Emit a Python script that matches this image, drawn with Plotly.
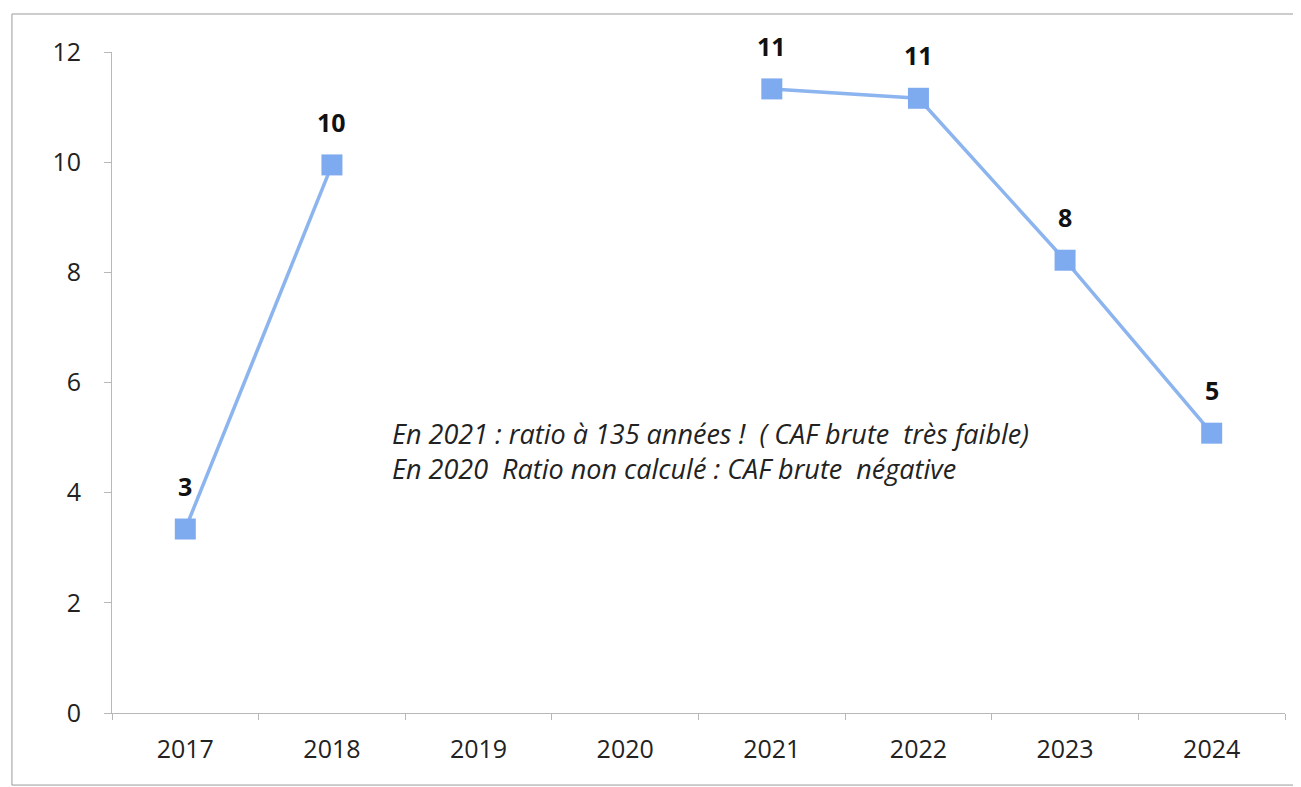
import plotly.graph_objects as go

years = ["2017", "2018", "2019", "2020", "2021", "2022", "2023", "2024"]
ratio = [3.34, 9.95, None, None, 11.33, 11.16, 8.22, 5.08]
labels = ["3", "10", "", "", "11", "11", "8", "5"]

note_lines = [
    "En 2021 : ratio à 135 années !  ( CAF brute  très faible)",
    "En 2020  Ratio non calculé : CAF brute  négative",
]

FONT = "Open Sans, Noto Sans, sans-serif"

fig = go.Figure()
fig.add_trace(
    go.Scatter(
        x=years,
        y=ratio,
        mode="lines+markers",
        line=dict(color="#8cb4ee", width=3.5),
        marker=dict(symbol="square", size=21, color="#7eaaf0"),
        connectgaps=False,
        cliponaxis=False,
        showlegend=False,
    )
)

# value labels above each point (category index, since "2017" would be read as a number)
for i, (val, lab) in enumerate(zip(ratio, labels)):
    if val is None:
        continue
    fig.add_annotation(
        x=i,
        y=val,
        text=f"<b>{lab}</b>",
        showarrow=False,
        yanchor="bottom",
        yshift=24,
        font=dict(family=FONT, size=25, color="#111111"),
    )

fig.add_annotation(
    x=0.237,
    y=0.396,
    xref="paper",
    yref="paper",
    xanchor="left",
    yanchor="middle",
    align="left",
    showarrow=False,
    text="<i>" + "<br>".join(note_lines) + "</i>",
    font=dict(family=FONT, size=27, color="#222222"),
)

# outer chart frame
fig.add_shape(
    type="rect",
    xref="paper",
    yref="paper",
    x0=-0.0853,
    x1=1.0102,
    y0=-0.109,
    y1=1.0575,
    line=dict(color="#9a9a9a", width=1),
)

fig.update_layout(
    width=1301,
    height=787,
    margin=dict(l=104, r=24, t=44, b=82),
    plot_bgcolor="white",
    paper_bgcolor="white",
    font=dict(family=FONT, size=25, color="#222222"),
    xaxis=dict(
        type="category",
        range=[-0.5, 7.5],
        showgrid=False,
        showline=True,
        linecolor="#b8b8b8",
        linewidth=1,
        ticks="outside",
        tickson="boundaries",
        ticklen=6,
        tickcolor="#b8b8b8",
        ticklabelstandoff=14,
        tickfont=dict(family=FONT, size=25, color="#222222"),
    ),
    yaxis=dict(
        range=[0, 12],
        dtick=2,
        showgrid=False,
        zeroline=False,
        showline=True,
        linecolor="#b8b8b8",
        linewidth=1,
        ticks="outside",
        ticklen=7,
        tickcolor="#b8b8b8",
        ticklabelstandoff=18,
        tickfont=dict(family=FONT, size=25, color="#222222"),
    ),
)

fig.write_html("out.html")
